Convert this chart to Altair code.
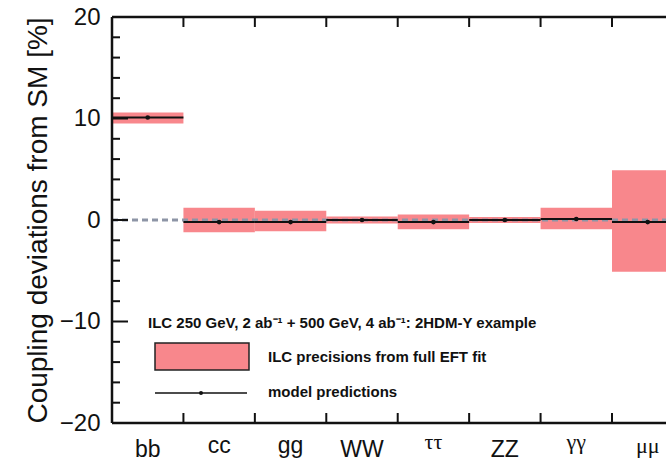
import altair as alt
import pandas as pd

# ---- data ----
categories = ["bb", "cc", "gg", "WW", "ττ", "ZZ", "γγ", "μμ"]
band_low = [9.5, -1.2, -1.1, -0.35, -0.9, -0.3, -0.9, -5.1]
band_high = [10.6, 1.2, 0.9, 0.35, 0.55, 0.3, 1.2, 4.9]
predictions = [10.1, -0.2, -0.2, 0.0, -0.2, 0.0, 0.1, -0.2]

y_major = [-20, -10, 0, 10, 20]
y_minor = [-18, -16, -14, -12, -8, -6, -4, -2, 2, 4, 6, 8, 12, 14, 16, 18]

legend_title = "ILC 250 GeV, 2 ab⁻¹ + 500 GeV, 4 ab⁻¹: 2HDM-Y example"
legend_band = "ILC precisions from full EFT fit"
legend_line = "model predictions"
y_title = "Coupling deviations from SM [%]"

# ---- table ----
n = len(categories)
df = pd.DataFrame({"cat": categories, "low": band_low, "high": band_high, "pred": predictions})
df["x0"] = list(range(n))
df["x1"] = [i + 1 for i in range(n)]
df["xc"] = [i + 0.5 for i in range(n)]

W, H = 554, 406
PINK = "#f8878c"
FONT = "Liberation Sans"

xs = alt.Scale(domain=[0, 7.756], nice=False, zero=False)
ys = alt.Scale(domain=[-20, 20], nice=False, zero=False)

one = pd.DataFrame({"z": [0]})

yaxis = alt.Axis(
    values=y_major, ticks=False, domain=False, grid=False,
    labelFont=FONT, labelFontSize=24, labelColor="#111", labelPadding=12,
    titleFont=FONT, titleFontSize=28, titleFontWeight="normal", titleColor="#111",
    titlePadding=7,
)


def X(field):
    return alt.X(field, scale=xs, axis=None)


def Y(field):
    return alt.Y(field, scale=ys, axis=yaxis, title=y_title)


base = alt.Chart(df)

bands = base.mark_rect(color=PINK, clip=True).encode(
    x=X("x0:Q"), x2="x1:Q", y=Y("low:Q"), y2="high:Q"
)

zero = alt.Chart(one).mark_rule(
    color="#8d95a6", strokeWidth=3, strokeDash=[6, 4]
).encode(y=Y("z:Q"), x=alt.value(0), x2=alt.value(W))

pred_line = base.mark_rule(color="#111", strokeWidth=2, clip=True).encode(
    x=X("x0:Q"), x2="x1:Q", y=Y("pred:Q")
)

dots = base.mark_circle(color="#111", size=22, opacity=1, clip=True).encode(
    x=X("xc:Q"), y=Y("pred:Q")
)

# frame
frame_left = alt.Chart(one).mark_rule(color="#111", strokeWidth=2.5).encode(
    x=alt.value(0), y=alt.value(0), y2=alt.value(H)
)
frame_bottom = alt.Chart(one).mark_rule(color="#111", strokeWidth=2.5).encode(
    x=alt.value(0), x2=alt.value(W), y=alt.value(H)
)
frame_top = alt.Chart(one).mark_rule(color="#111", strokeWidth=2.5).encode(
    x=alt.value(0), x2=alt.value(W), y=alt.value(0)
)

# y ticks (inside)
ymaj = alt.Chart(pd.DataFrame({"v": y_major})).mark_rule(color="#111", strokeWidth=2).encode(
    y=Y("v:Q"), x=alt.value(0), x2=alt.value(16)
)
ymin = alt.Chart(pd.DataFrame({"v": y_minor})).mark_rule(color="#111", strokeWidth=2).encode(
    y=Y("v:Q"), x=alt.value(0), x2=alt.value(8)
)

# x boundary ticks (inside, bottom and top)
bnd = pd.DataFrame({"b": list(range(1, n))})
xt_bottom = alt.Chart(bnd).mark_rule(color="#111", strokeWidth=2, clip=True).encode(
    x=X("b:Q"), y=alt.value(H), y2=alt.value(H - 10)
)
xt_top = alt.Chart(bnd).mark_rule(color="#111", strokeWidth=2, clip=True).encode(
    x=X("b:Q"), y=alt.value(0), y2=alt.value(10)
)


# category labels
def labels(cats, font, size, ypix):
    return base.transform_filter(
        alt.FieldOneOfPredicate(field="cat", oneOf=cats)
    ).mark_text(font=font, fontSize=size, color="#111", baseline="alphabetic", align="center").encode(
        x=X("xc:Q"), y=alt.value(ypix), text="cat:N"
    )


lab1 = labels(["bb", "WW", "ZZ"], FONT, 23, 440)
lab2 = labels(["cc", "gg"], FONT, 23, 436)
lab3 = labels(["ττ", "γγ"], "Liberation Serif", 22, 432)
lab4 = labels(["μμ"], "Liberation Serif", 22, 436)

# legend
LEGFS = 15
leg_title = alt.Chart(one).mark_text(
    font=FONT, fontSize=LEGFS, fontWeight="bold", color="#111", align="left", baseline="alphabetic"
).encode(x=alt.value(36), y=alt.value(311), text=alt.value(legend_title))
leg_rect = alt.Chart(one).mark_rect(fill=PINK, stroke="#222", strokeWidth=1.5).encode(
    x=alt.value(43), x2=alt.value(137), y=alt.value(326), y2=alt.value(353)
)
leg_t1 = alt.Chart(one).mark_text(
    font=FONT, fontSize=LEGFS, fontWeight="bold", color="#111", align="left", baseline="alphabetic"
).encode(x=alt.value(156), y=alt.value(345), text=alt.value(legend_band))
leg_line = alt.Chart(one).mark_rule(color="#111", strokeWidth=1.5).encode(
    x=alt.value(43), x2=alt.value(135), y=alt.value(376)
)
leg_dot = alt.Chart(one).mark_circle(color="#111", size=16, opacity=1).encode(
    x=alt.value(89), y=alt.value(376)
)
leg_t2 = alt.Chart(one).mark_text(
    font=FONT, fontSize=LEGFS, fontWeight="bold", color="#111", align="left", baseline="alphabetic"
).encode(x=alt.value(156), y=alt.value(380), text=alt.value(legend_line))

chart = alt.layer(
    bands, zero, pred_line, dots,
    frame_left, frame_bottom, frame_top,
    ymaj, ymin, xt_bottom, xt_top,
    lab1, lab2, lab3, lab4,
    leg_title, leg_rect, leg_t1, leg_line, leg_dot, leg_t2,
).properties(
    width=W, height=H,
    padding={"left": 112, "top": 17, "right": 0, "bottom": 38},
    autosize=alt.AutoSizeParams(type="none"),
    background="white",
).configure_view(stroke=None)

chart.save("out.html", embed_options={"renderer": "svg", "actions": False})
